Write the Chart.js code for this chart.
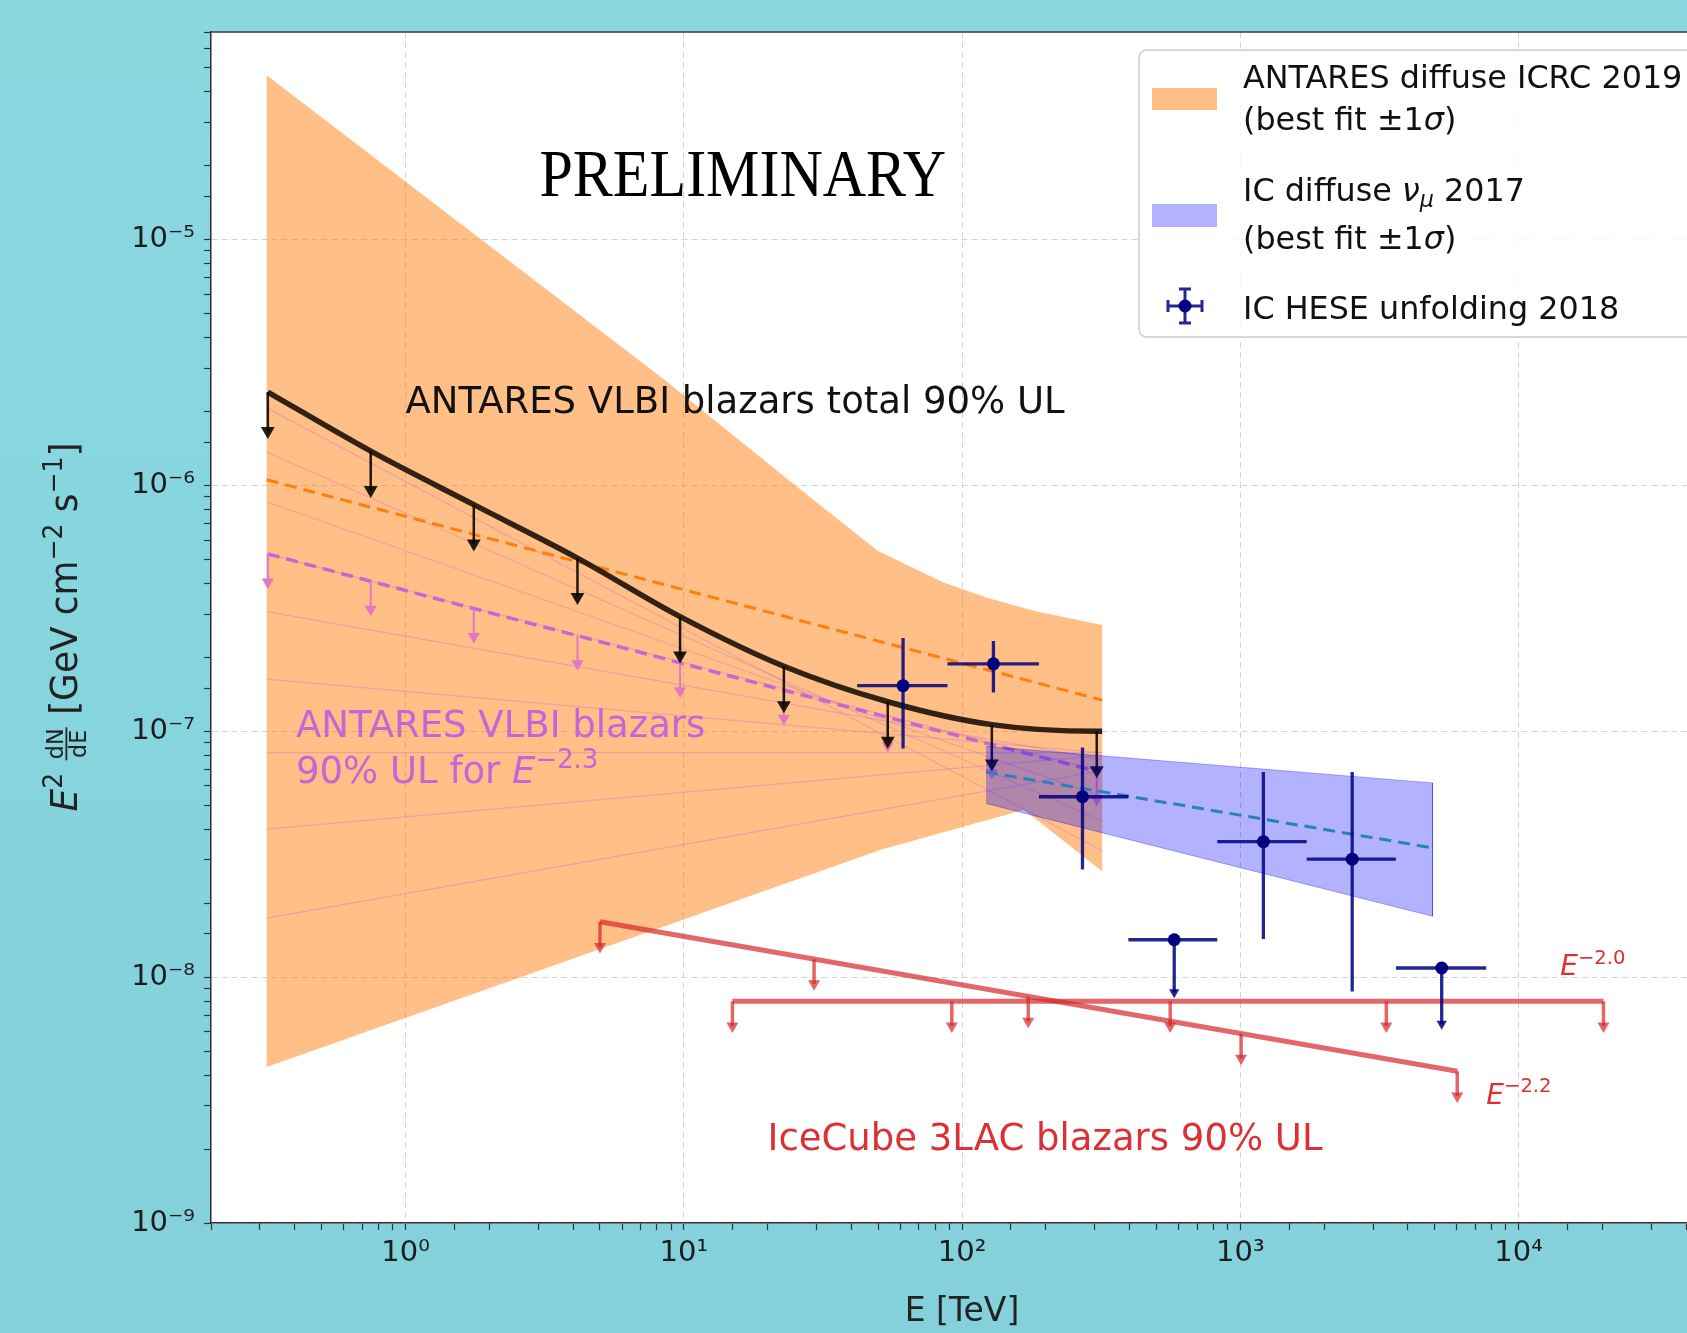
<!DOCTYPE html>
<html>
<head>
<meta charset="utf-8">
<title>ANTARES VLBI blazars - upper limits</title>
<script src="https://cdn.jsdelivr.net/npm/chart.js@4.4.1/dist/chart.umd.min.js"></script>
<style>
  html, body { margin: 0; padding: 0; width: 1687px; height: 1333px; overflow: hidden; }
  body { background: linear-gradient(180deg, #8bd8e1 0%, #87d5df 40%, #84d1db 100%); }
  #wrap { position: absolute; left: 0; top: 0; width: 1760px; height: 1333px; }
</style>
</head>
<body>
<div id="wrap"><canvas id="flux" width="1760" height="1333"></canvas></div>
<script>
// Energies in TeV, fluxes E^2 dN/dE in GeV cm^-2 s^-1

// ANTARES diffuse ICRC 2019 (best fit +- 1 sigma)
const antaresUpperE = [0.317, 8.5, 22.9, 49.7, 85, 123, 184, 319];
const antaresUpperF = [4.67e-5, 2.70e-6, 1.09e-6, 5.43e-7, 4.05e-7, 3.50e-7, 3.08e-7, 2.71e-7];
const antaresLowerE = [0.317, 51.1, 167, 319];
const antaresLowerF = [4.31e-9, 3.30e-8, 4.80e-8, 2.70e-8];
const antaresFitE = [0.317, 319];
const antaresFitF = [1.056e-6, 1.34e-7];

// ANTARES VLBI blazars: total 90% UL and UL for E^-2.3
const ulE = [0.32, 0.75, 1.76, 4.15, 9.7, 22.9, 54.1, 128, 305];
const totalUL = [2.40e-6, 1.38e-6, 8.36e-7, 5.07e-7, 2.93e-7, 1.84e-7, 1.32e-7, 1.065e-7, 1.0e-7];
const totalCurveE = [0.32, 0.75, 1.76, 4.15, 9.7, 22.9, 54.1, 128, 305, 319];
const totalCurveF = [2.40e-6, 1.38e-6, 8.36e-7, 5.07e-7, 2.93e-7, 1.84e-7, 1.32e-7, 1.065e-7, 1.0e-7, 1.0e-7];
const ul23 = [5.27e-7, 4.08e-7, 3.16e-7, 2.45e-7, 1.90e-7, 1.47e-7, 1.14e-7, 8.83e-8, 6.89e-8];

// thin UL lines, one per spectral index
const spectralIndex = [1.8, 1.9, 2.0, 2.1, 2.2, 2.3, 2.4, 2.5, 2.6];
const indexLineE = [0.317, 319];
const indexLineStartF = [1.74e-8, 4.00e-8, 8.20e-8, 1.63e-7, 3.07e-7, 5.27e-7, 8.59e-7, 1.37e-6, 2.07e-6];
const indexLineEndF = [6.92e-8, 7.98e-8, 8.20e-8, 8.18e-8, 7.69e-8, 6.86e-8, 5.41e-8, 4.32e-8, 3.27e-8];

// IC diffuse numu 2017 (best fit +- 1 sigma)
const icBandE = [122, 4909];
const icBandUpperF = [8.69e-8, 6.17e-8];
const icBandLowerF = [5.09e-8, 1.77e-8];
const icFitF = [6.83e-8, 3.36e-8];

// IC HESE unfolding 2018
const heseE = [61.4, 129.7, 271, 579, 1211, 2525, 5296];
const heseELow = [42.0, 88.7, 189, 396, 827, 1733, 3625];
const heseEHigh = [88.7, 189, 396, 827, 1733, 3625, 7655];
const heseF = [1.534e-7, 1.883e-7, 5.42e-8, 1.42e-8, 3.56e-8, 3.02e-8, 1.09e-8];
const heseFLow = [8.51e-8, 1.44e-7, 2.74e-8, 8.69e-9, 1.43e-8, 8.75e-9, 6.47e-9];
const heseFHigh = [2.40e-7, 2.33e-7, 8.59e-8, null, 6.83e-8, 6.83e-8, null];
const heseIsUL = [false, false, false, true, false, false, true];

// IceCube 3LAC blazars 90% UL
const lac20E = [14.96, 20200];
const lac20F = [7.98e-9, 7.98e-9];
const lac20ArrowE = [14.96, 91.9, 560, 3349, 20200];
const lac20ArrowF = [7.98e-9, 7.98e-9, 7.98e-9, 7.98e-9, 7.98e-9];
const lac22E = [5.0, 6025];
const lac22F = [1.68e-8, 4.14e-9];
const lac22ArrowE = [5.0, 29.4, 173, 1007, 6025];
const lac22ArrowF = [1.68e-8, 1.184e-8, 8.34e-9, 5.89e-9, 4.14e-9];

// axis ticks
const xTickDecades = [0, 1, 2, 3, 4];
const yTickDecades = [-9, -8, -7, -6, -5];

// --- helpers ---
const SUP = {'-': '⁻', '0': '⁰', '1': '¹', '2': '²', '3': '³', '4': '⁴', '5': '⁵', '6': '⁶', '7': '⁷', '8': '⁸', '9': '⁹'};
const decadeLabel = n => '10' + String(n).split('').map(c => SUP[c]).join('');
const isDecade = v => Math.abs(Math.log10(v) - Math.round(Math.log10(v))) < 1e-6;

const pts = (xs, ys) => xs.map((x, i) => ({x, y: ys[i]}));

// vertical arrow segments, the ratio only sets the drawn arrow length
function arrowData(xs, tops, ratio) {
    const d = [];
    xs.forEach((x, i) => d.push({x, y: tops[i]}, {x, y: tops[i] / ratio}, {x, y: null}));
    return d;
}

function arrowSet(data, color, width, head, order) {
    return {
        data, order, showLine: true, spanGaps: false,
        borderColor: color, borderWidth: width,
        pointStyle: 'triangle', rotation: 180,
        pointRadius: c => (c.dataIndex % 3 === 1 ? head : 0),
        pointBackgroundColor: color, pointBorderColor: color, pointBorderWidth: 0
    };
}

// error bars for HESE points
const heseBars = [];
heseE.forEach((e, i) => {
    heseBars.push({x: heseELow[i], y: heseF[i]}, {x: heseEHigh[i], y: heseF[i]}, {x: e, y: null});
    const top = heseIsUL[i] ? heseF[i] : heseFHigh[i];
    heseBars.push({x: e, y: heseFLow[i]}, {x: e, y: top}, {x: e, y: null});
});
const heseULTips = heseE.map((e, i) => ({x: e, y: heseIsUL[i] ? heseFLow[i] : null}));

const orangeShape = pts(antaresUpperE, antaresUpperF)
    .concat(pts(antaresLowerE.slice().reverse(), antaresLowerF.slice().reverse()));
const blueShape = pts(icBandE, icBandUpperF)
    .concat(pts(icBandE.slice().reverse(), icBandLowerF.slice().reverse()));

const RED = 'rgba(214, 39, 40, 0.7)';
const NAVY = 'rgba(0, 0, 128, 0.85)';
const VIOLET = '#c466d8';

const datasets = [];
// band fills at the bottom
datasets.push({data: orangeShape, order: 30, showLine: true, fill: 'shape',
    backgroundColor: 'rgba(255, 127, 14, 0.5)', borderWidth: 0});
spectralIndex.forEach((g, i) => datasets.push({
    data: pts(indexLineE, [indexLineStartF[i], indexLineEndF[i]]), order: 29, showLine: true,
    borderColor: 'rgba(200, 100, 215, 0.32)', borderWidth: 1.2
}));
datasets.push({data: pts(antaresFitE, antaresFitF), order: 28, showLine: true,
    borderColor: '#ff7f0e', borderWidth: 3, borderDash: [12, 7]});
datasets.push({data: pts(ulE, ul23), order: 27, showLine: true,
    borderColor: 'rgba(196, 98, 216, 0.95)', borderWidth: 3.5, borderDash: [12, 7]});
datasets.push(arrowSet(arrowData(ulE, ul23, 1.30), '#e377c2', 2, 7, 26));
datasets.push({data: pts(totalCurveE, totalCurveF), order: 25, showLine: true,
    borderColor: 'rgba(22, 12, 4, 0.88)', borderWidth: 5.5, cubicInterpolationMode: 'monotone'});
datasets.push(arrowSet(arrowData(ulE, totalUL, 1.44), 'rgba(10, 5, 0, 0.9)', 2.5, 8, 24));
datasets.push({data: blueShape, order: 20, showLine: true, fill: 'shape',
    backgroundColor: 'rgba(0, 0, 255, 0.3)', borderColor: 'rgba(0, 0, 255, 0.3)', borderWidth: 1});
datasets.push({data: pts(icBandE, icFitF), order: 19, showLine: true,
    borderColor: '#2a80b9', borderWidth: 3, borderDash: [12, 7]});
datasets.push({data: pts(lac20E, lac20F), order: 15, showLine: true, borderColor: RED, borderWidth: 5});
datasets.push({data: pts(lac22E, lac22F), order: 15, showLine: true, borderColor: RED, borderWidth: 5});
datasets.push(arrowSet(arrowData(lac20ArrowE, lac20ArrowF, 1.26), RED, 3.5, 7, 14));
datasets.push(arrowSet(arrowData(lac22ArrowE, lac22ArrowF, 1.26), RED, 3.5, 7, 14));
datasets.push({data: heseBars, order: 5, showLine: true, spanGaps: false, borderColor: NAVY, borderWidth: 3.3});
datasets.push({data: heseULTips, order: 4, pointStyle: 'triangle', rotation: 180,
    pointRadius: 6, pointBackgroundColor: NAVY, pointBorderWidth: 0});
datasets.push({data: pts(heseE, heseF), order: 3, pointRadius: 6.5,
    pointBackgroundColor: '#000080', pointBorderColor: '#000080', pointBorderWidth: 0});

// text placed in data coordinates (x, centre of caps)
const notes = [
    {runs: [{t: 'PRELIMINARY'}], x: 16.3, y: 1.89e-5, size: 60, family: '"Liberation Serif", serif', color: '#000', align: 'center', stretch: 1.12},
    {runs: [{t: 'ANTARES VLBI blazars total 90% UL'}], x: 1.0, y: 2.23e-6, size: 37, color: '#111'},
    {runs: [{t: 'ANTARES VLBI blazars'}], x: 0.404, y: 1.074e-7, size: 37, color: VIOLET},
    {runs: [{t: '90% UL for '}, {t: 'E', it: true}, {t: '−2.3', sup: true}], x: 0.404, y: 6.98e-8, size: 37, color: VIOLET},
    {runs: [{t: 'IceCube 3LAC blazars 90% UL'}], x: 20, y: 2.24e-9, size: 37, color: '#dc3035'},
    {runs: [{t: 'E', it: true}, {t: '−2.0', sup: true}], x: 14125, y: 1.12e-8, size: 28, color: '#dc3035'},
    {runs: [{t: 'E', it: true}, {t: '−2.2', sup: true}], x: 7660, y: 3.36e-9, size: 28, color: '#dc3035'}
];

const FAMILY = '"DejaVu Sans", sans-serif';

function runFont(r, size, family) {
    const s = (r.sup || r.sub) ? size * 0.7 : size;
    return (r.it ? 'italic ' : '') + s + 'px ' + (family || FAMILY);
}

function runWidth(ctx, r, size, family) {
    if (r.frac) {
        ctx.font = (size * 0.62) + 'px ' + (family || FAMILY);
        return Math.max(ctx.measureText(r.frac[0]).width, ctx.measureText(r.frac[1]).width) + 4;
    }
    ctx.font = runFont(r, size, family);
    return ctx.measureText(r.t).width;
}

// draws a line of runs with its cap centre at y
function drawRich(ctx, runs, x, y, size, color, align, family) {
    ctx.save();
    ctx.fillStyle = color;
    ctx.strokeStyle = color;
    ctx.textBaseline = 'alphabetic';
    ctx.textAlign = 'left';
    const base = y + size * 0.365;
    const total = runs.reduce((s, r) => s + runWidth(ctx, r, size, family), 0);
    let cx = align === 'center' ? x - total / 2 : x;
    runs.forEach(r => {
        const w = runWidth(ctx, r, size, family);
        if (r.frac) {
            const fs = size * 0.62;
            const bar = base - size * 0.3;
            ctx.font = fs + 'px ' + (family || FAMILY);
            ctx.textAlign = 'center';
            ctx.fillText(r.frac[0], cx + w / 2, bar - size * 0.08);
            ctx.fillText(r.frac[1], cx + w / 2, bar + size * 0.08 + fs * 0.73);
            ctx.textAlign = 'left';
            ctx.lineWidth = 1.5;
            ctx.beginPath();
            ctx.moveTo(cx + 1, bar);
            ctx.lineTo(cx + w - 1, bar);
            ctx.stroke();
        } else {
            ctx.font = runFont(r, size, family);
            const dy = r.sup ? -size * 0.42 : (r.sub ? size * 0.2 : 0);
            ctx.fillText(r.t, cx, base + dy);
        }
        cx += w;
    });
    ctx.restore();
    return total;
}

const plotDecor = {
    id: 'plotDecor',
    beforeDraw(chart) {
        const {ctx, chartArea: a} = chart;
        ctx.save();
        ctx.fillStyle = '#ffffff';
        ctx.fillRect(a.left, a.top, a.right - a.left, a.bottom - a.top);
        ctx.restore();
    },
    afterDatasetsDraw(chart) {
        const {ctx, scales: {x, y}} = chart;
        notes.forEach(n => {
            const px = x.getPixelForValue(n.x);
            const py = y.getPixelForValue(n.y);
            if (n.stretch) {
                ctx.save();
                ctx.translate(px, py);
                ctx.scale(1, n.stretch);
                drawRich(ctx, n.runs, 0, 0, n.size, n.color, n.align, n.family);
                ctx.restore();
            } else {
                drawRich(ctx, n.runs, px, py, n.size, n.color, n.align, n.family);
            }
        });
    },
    afterDraw(chart) {
        const {ctx, chartArea: a} = chart;
        // top spine
        ctx.save();
        ctx.strokeStyle = '#3a3a3a';
        ctx.lineWidth = 1.5;
        ctx.beginPath();
        ctx.moveTo(a.left, a.top);
        ctx.lineTo(a.right, a.top);
        ctx.stroke();
        ctx.restore();

        // y axis title, rotated
        ctx.save();
        ctx.translate(64, 627);
        ctx.rotate(-Math.PI / 2);
        ctx.scale(1.12, 1.15);
        drawRich(ctx, [
            {t: 'E', it: true}, {t: '2', sup: true}, {t: ' '}, {frac: ['dN', 'dE']},
            {t: ' [GeV cm'}, {t: '−2', sup: true}, {t: ' s'}, {t: '−1', sup: true}, {t: ']'}
        ], 0, 0, 32, '#222', 'center');
        ctx.restore();

        // legend box, upper right
        const lx = 1139, ly = 50, lw = 560, lh = 287;
        ctx.save();
        ctx.fillStyle = 'rgba(255, 255, 255, 0.82)';
        ctx.strokeStyle = '#cccccc';
        ctx.lineWidth = 1.5;
        ctx.beginPath();
        ctx.roundRect(lx, ly, lw, lh, 8);
        ctx.fill();
        ctx.stroke();
        ctx.fillStyle = 'rgba(255, 127, 14, 0.5)';
        ctx.fillRect(1152, 88, 65, 22);
        ctx.fillStyle = 'rgba(0, 0, 255, 0.3)';
        ctx.fillRect(1152, 204, 65, 23);
        // HESE marker
        const mx = 1185, my = 306;
        ctx.strokeStyle = NAVY;
        ctx.lineWidth = 3;
        ctx.beginPath();
        ctx.moveTo(mx - 17, my); ctx.lineTo(mx + 17, my);
        ctx.moveTo(mx, my - 17); ctx.lineTo(mx, my + 17);
        ctx.moveTo(mx - 17, my - 6); ctx.lineTo(mx - 17, my + 6);
        ctx.moveTo(mx + 17, my - 6); ctx.lineTo(mx + 17, my + 6);
        ctx.moveTo(mx - 6, my - 17); ctx.lineTo(mx + 6, my - 17);
        ctx.moveTo(mx - 6, my + 17); ctx.lineTo(mx + 6, my + 17);
        ctx.stroke();
        ctx.fillStyle = '#000080';
        ctx.beginPath();
        ctx.arc(mx, my, 6.5, 0, Math.PI * 2);
        ctx.fill();
        ctx.restore();

        const tx = 1243, fs = 31.8, col = '#111';
        drawRich(ctx, [{t: 'ANTARES diffuse ICRC 2019'}], tx, 76, fs, col);
        drawRich(ctx, [{t: '(best fit ±1'}, {t: 'σ', it: true}, {t: ')'}], tx, 118, fs, col);
        drawRich(ctx, [{t: 'IC diffuse '}, {t: 'ν', it: true}, {t: 'μ', it: true, sub: true}, {t: ' 2017'}], tx, 189, fs, col);
        drawRich(ctx, [{t: '(best fit ±1'}, {t: 'σ', it: true}, {t: ')'}], tx, 237, fs, col);
        drawRich(ctx, [{t: 'IC HESE unfolding 2018'}], tx, 307, fs, col);
    }
};

const gridColor = c => (c.tick && isDecade(c.tick.value) ? '#d2d2d2' : 'rgba(0,0,0,0)');

new Chart(document.getElementById('flux').getContext('2d'), {
    type: 'scatter',
    data: {datasets},
    options: {
        responsive: false,
        animation: false,
        devicePixelRatio: 1,
        events: [],
        layout: {padding: {left: 0, right: 47, top: 32, bottom: 0}},
        elements: {point: {radius: 0}, line: {tension: 0}},
        plugins: {legend: {display: false}, tooltip: {enabled: false}},
        scales: {
            x: {
                type: 'logarithmic', min: 0.2, max: 5e4,
                afterFit: s => { s.height = 110; },
                border: {color: '#2e2e2e', width: 1.5, dash: [6, 4]},
                grid: {color: gridColor, lineWidth: 1, tickColor: '#333', tickLength: 7, tickWidth: 1.2},
                ticks: {
                    autoSkip: false, maxRotation: 0, padding: 6, color: '#1c1c1c',
                    font: {family: 'DejaVu Sans', size: 29},
                    callback: v => (isDecade(v) && xTickDecades.includes(Math.round(Math.log10(v))) ? decadeLabel(Math.round(Math.log10(v))) : '')
                },
                title: {display: true, text: 'E [TeV]', color: '#222', font: {family: 'DejaVu Sans', size: 33}, padding: {top: 0, bottom: 1}}
            },
            y: {
                type: 'logarithmic', min: 1e-9, max: 7e-5,
                afterFit: s => { s.width = 211; },
                border: {color: '#2e2e2e', width: 1.5, dash: [6, 4]},
                grid: {color: gridColor, lineWidth: 1, tickColor: '#333', tickLength: 7, tickWidth: 1.2},
                ticks: {
                    autoSkip: false, padding: 9, color: '#1c1c1c',
                    font: {family: 'DejaVu Sans', size: 29},
                    callback: v => (isDecade(v) && yTickDecades.includes(Math.round(Math.log10(v))) ? decadeLabel(Math.round(Math.log10(v))) : '')
                }
            }
        }
    },
    plugins: [plotDecor]
});
</script>
</body>
</html>
